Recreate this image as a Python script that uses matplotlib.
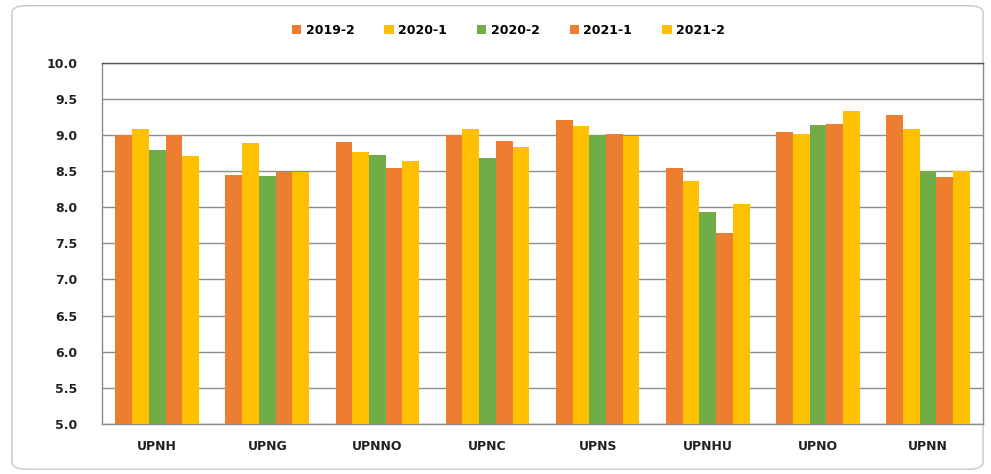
"""
Grouped bar chart: scores per programme, 2019-2 to 2021-2
"""

import numpy as np
import matplotlib.pyplot as plt
from matplotlib.patches import FancyBboxPatch

# Data
programmes = ['UPNH', 'UPNG', 'UPNNO', 'UPNC', 'UPNS', 'UPNHU', 'UPNO', 'UPNN']
periods = ['2019-2', '2020-1', '2020-2', '2021-1', '2021-2']

s_2019_2 = [9.00, 8.45, 8.90, 9.00, 9.21, 8.55, 9.05, 9.28]
s_2020_1 = [9.08, 8.89, 8.77, 9.09, 9.13, 8.36, 9.02, 9.08]
s_2020_2 = [8.80, 8.44, 8.72, 8.69, 9.00, 7.93, 9.14, 8.50]
s_2021_1 = [9.00, 8.49, 8.54, 8.92, 9.01, 7.65, 9.15, 8.42]
s_2021_2 = [8.71, 8.49, 8.64, 8.84, 8.99, 8.05, 9.34, 8.51]

series = [s_2019_2, s_2020_1, s_2020_2, s_2021_1, s_2021_2]
colors = ['#ED7D31', '#FFC000', '#70AD47', '#ED7D31', '#FFC000']

fig = plt.figure(figsize=(9.91, 4.74), dpi=100)

# Rounded outer frame
frame = FancyBboxPatch((0.012, 0.01), 0.98, 0.978,
                       boxstyle='round,pad=0,rounding_size=0.015',
                       transform=fig.transFigure, facecolor='none',
                       edgecolor='#c8c8c8', linewidth=1.0, zorder=-1)
fig.patches.append(frame)

ax = fig.add_axes([0.103, 0.106, 0.889, 0.761])

x = np.arange(len(programmes))
width = 0.152
for i, (vals, c, lbl) in enumerate(zip(series, colors, periods)):
    offs = (i - 2) * width
    ax.bar(x + offs, vals, width, color=c, label=lbl, zorder=3)

ax.set_ylim(5.0, 10.0)
ax.set_xlim(-0.5, len(programmes) - 0.5)
ax.set_yticks(np.arange(5.0, 10.01, 0.5))
ax.set_yticklabels([f'{v:.1f}' for v in np.arange(5.0, 10.01, 0.5)],
                   fontsize=9, fontweight='bold', color='#222222')
ax.set_xticks(x)
ax.set_xticklabels(programmes, fontsize=9, fontweight='bold', color='#222222')
ax.tick_params(axis='both', length=0)
ax.tick_params(axis='x', pad=12)
ax.tick_params(axis='y', pad=18)

ax.grid(axis='y', color='#8c8c8c', linewidth=1.0, zorder=0)
ax.set_axisbelow(True)
for side in ['top', 'right', 'bottom', 'left']:
    ax.spines[side].set_color('#8c8c8c')
    ax.spines[side].set_linewidth(1.0)
ax.spines['top'].set_color('#555555')

fig.legend(loc='center', bbox_to_anchor=(0.513, 0.936), ncol=5, frameon=False,
           prop={'size': 9, 'weight': 'bold'}, handlelength=0.75, handleheight=0.75,
           handletextpad=0.35, columnspacing=2.4)

fig.savefig('out.png', dpi=100)
